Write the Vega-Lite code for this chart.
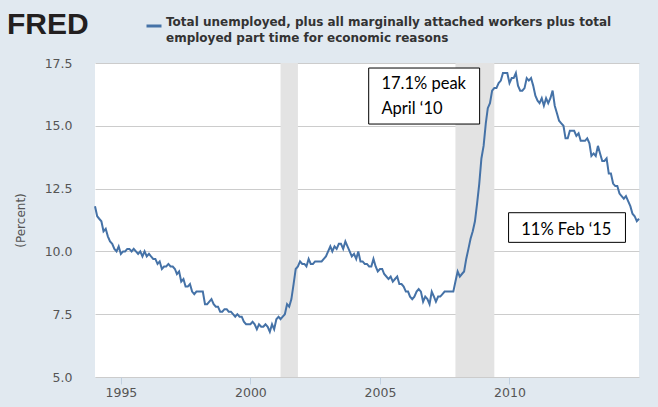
{
  "$schema": "https://vega.github.io/schema/vega-lite/v6.json",
  "width": 544,
  "height": 314,
  "autosize": {"type": "none"},
  "padding": {"left": 95, "top": 63, "right": 19, "bottom": 30},
  "background": "#e1e9f0",
  "config": {"view": {"stroke": null, "fill": "#ffffff"}, "font": "DejaVu Sans"},
  "title": {
    "text": ["Total unemployed, plus all marginally attached workers plus total", "employed part time for economic reasons"],
    "anchor": "start",
    "frame": "group",
    "dx": 71,
    "offset": -28,
    "font": "DejaVu Sans",
    "fontSize": 12,
    "fontWeight": "bold",
    "color": "#333333",
    "lineHeight": 16
  },
  "datasets": {
    "u6": [
      {"date":"1994-01-01","value":11.8},{"date":"1994-02-01","value":11.4},{"date":"1994-03-01","value":11.3},{"date":"1994-04-01","value":11.2},{"date":"1994-05-01","value":10.8},{"date":"1994-06-01","value":10.9},{"date":"1994-07-01","value":10.6},{"date":"1994-08-01","value":10.4},{"date":"1994-09-01","value":10.3},{"date":"1994-10-01","value":10.1},{"date":"1994-11-01","value":10.0},{"date":"1994-12-01","value":10.2},
      {"date":"1995-01-01","value":9.9},{"date":"1995-02-01","value":10.0},{"date":"1995-03-01","value":10.0},{"date":"1995-04-01","value":10.1},{"date":"1995-05-01","value":10.1},{"date":"1995-06-01","value":10.0},{"date":"1995-07-01","value":10.1},{"date":"1995-08-01","value":10.0},{"date":"1995-09-01","value":9.9},{"date":"1995-10-01","value":10.0},{"date":"1995-11-01","value":9.8},{"date":"1995-12-01","value":10.0},
      {"date":"1996-01-01","value":9.8},{"date":"1996-02-01","value":9.9},{"date":"1996-03-01","value":9.8},{"date":"1996-04-01","value":9.7},{"date":"1996-05-01","value":9.7},{"date":"1996-06-01","value":9.5},{"date":"1996-07-01","value":9.6},{"date":"1996-08-01","value":9.3},{"date":"1996-09-01","value":9.4},{"date":"1996-10-01","value":9.4},{"date":"1996-11-01","value":9.5},{"date":"1996-12-01","value":9.4},
      {"date":"1997-01-01","value":9.4},{"date":"1997-02-01","value":9.3},{"date":"1997-03-01","value":9.1},{"date":"1997-04-01","value":9.2},{"date":"1997-05-01","value":8.8},{"date":"1997-06-01","value":8.9},{"date":"1997-07-01","value":8.6},{"date":"1997-08-01","value":8.6},{"date":"1997-09-01","value":8.7},{"date":"1997-10-01","value":8.4},{"date":"1997-11-01","value":8.3},{"date":"1997-12-01","value":8.4},
      {"date":"1998-01-01","value":8.4},{"date":"1998-02-01","value":8.4},{"date":"1998-03-01","value":8.4},{"date":"1998-04-01","value":7.9},{"date":"1998-05-01","value":7.9},{"date":"1998-06-01","value":8.0},{"date":"1998-07-01","value":8.1},{"date":"1998-08-01","value":7.9},{"date":"1998-09-01","value":7.8},{"date":"1998-10-01","value":7.8},{"date":"1998-11-01","value":7.6},{"date":"1998-12-01","value":7.6},
      {"date":"1999-01-01","value":7.7},{"date":"1999-02-01","value":7.7},{"date":"1999-03-01","value":7.6},{"date":"1999-04-01","value":7.6},{"date":"1999-05-01","value":7.5},{"date":"1999-06-01","value":7.4},{"date":"1999-07-01","value":7.5},{"date":"1999-08-01","value":7.4},{"date":"1999-09-01","value":7.4},{"date":"1999-10-01","value":7.2},{"date":"1999-11-01","value":7.1},{"date":"1999-12-01","value":7.1},
      {"date":"2000-01-01","value":7.1},{"date":"2000-02-01","value":7.2},{"date":"2000-03-01","value":7.1},{"date":"2000-04-01","value":6.9},{"date":"2000-05-01","value":7.1},{"date":"2000-06-01","value":7.0},{"date":"2000-07-01","value":7.0},{"date":"2000-08-01","value":7.1},{"date":"2000-09-01","value":7.0},{"date":"2000-10-01","value":6.8},{"date":"2000-11-01","value":7.1},{"date":"2000-12-01","value":6.9},
      {"date":"2001-01-01","value":7.3},{"date":"2001-02-01","value":7.4},{"date":"2001-03-01","value":7.3},{"date":"2001-04-01","value":7.4},{"date":"2001-05-01","value":7.5},{"date":"2001-06-01","value":7.9},{"date":"2001-07-01","value":7.8},{"date":"2001-08-01","value":8.1},{"date":"2001-09-01","value":8.7},{"date":"2001-10-01","value":9.3},{"date":"2001-11-01","value":9.4},{"date":"2001-12-01","value":9.6},
      {"date":"2002-01-01","value":9.5},{"date":"2002-02-01","value":9.5},{"date":"2002-03-01","value":9.4},{"date":"2002-04-01","value":9.7},{"date":"2002-05-01","value":9.5},{"date":"2002-06-01","value":9.5},{"date":"2002-07-01","value":9.6},{"date":"2002-08-01","value":9.6},{"date":"2002-09-01","value":9.6},{"date":"2002-10-01","value":9.6},{"date":"2002-11-01","value":9.7},{"date":"2002-12-01","value":9.8},
      {"date":"2003-01-01","value":10.0},{"date":"2003-02-01","value":10.2},{"date":"2003-03-01","value":10.0},{"date":"2003-04-01","value":10.2},{"date":"2003-05-01","value":10.1},{"date":"2003-06-01","value":10.3},{"date":"2003-07-01","value":10.3},{"date":"2003-08-01","value":10.1},{"date":"2003-09-01","value":10.4},{"date":"2003-10-01","value":10.2},{"date":"2003-11-01","value":10.0},{"date":"2003-12-01","value":9.8},
      {"date":"2004-01-01","value":9.9},{"date":"2004-02-01","value":9.7},{"date":"2004-03-01","value":10.0},{"date":"2004-04-01","value":9.6},{"date":"2004-05-01","value":9.6},{"date":"2004-06-01","value":9.5},{"date":"2004-07-01","value":9.5},{"date":"2004-08-01","value":9.4},{"date":"2004-09-01","value":9.4},{"date":"2004-10-01","value":9.7},{"date":"2004-11-01","value":9.4},{"date":"2004-12-01","value":9.2},
      {"date":"2005-01-01","value":9.3},{"date":"2005-02-01","value":9.3},{"date":"2005-03-01","value":9.1},{"date":"2005-04-01","value":9.0},{"date":"2005-05-01","value":8.9},{"date":"2005-06-01","value":9.0},{"date":"2005-07-01","value":8.8},{"date":"2005-08-01","value":8.9},{"date":"2005-09-01","value":9.0},{"date":"2005-10-01","value":8.7},{"date":"2005-11-01","value":8.7},{"date":"2005-12-01","value":8.6},
      {"date":"2006-01-01","value":8.4},{"date":"2006-02-01","value":8.4},{"date":"2006-03-01","value":8.2},{"date":"2006-04-01","value":8.1},{"date":"2006-05-01","value":8.2},{"date":"2006-06-01","value":8.4},{"date":"2006-07-01","value":8.5},{"date":"2006-08-01","value":8.4},{"date":"2006-09-01","value":8.0},{"date":"2006-10-01","value":8.2},{"date":"2006-11-01","value":8.1},{"date":"2006-12-01","value":7.9},
      {"date":"2007-01-01","value":8.4},{"date":"2007-02-01","value":8.2},{"date":"2007-03-01","value":8.0},{"date":"2007-04-01","value":8.2},{"date":"2007-05-01","value":8.2},{"date":"2007-06-01","value":8.3},{"date":"2007-07-01","value":8.4},{"date":"2007-08-01","value":8.4},{"date":"2007-09-01","value":8.4},{"date":"2007-10-01","value":8.4},{"date":"2007-11-01","value":8.4},{"date":"2007-12-01","value":8.8},
      {"date":"2008-01-01","value":9.2},{"date":"2008-02-01","value":9.0},{"date":"2008-03-01","value":9.1},{"date":"2008-04-01","value":9.2},{"date":"2008-05-01","value":9.7},{"date":"2008-06-01","value":10.1},{"date":"2008-07-01","value":10.5},{"date":"2008-08-01","value":10.8},{"date":"2008-09-01","value":11.2},{"date":"2008-10-01","value":11.9},{"date":"2008-11-01","value":12.7},{"date":"2008-12-01","value":13.7},
      {"date":"2009-01-01","value":14.2},{"date":"2009-02-01","value":15.1},{"date":"2009-03-01","value":15.7},{"date":"2009-04-01","value":15.9},{"date":"2009-05-01","value":16.4},{"date":"2009-06-01","value":16.5},{"date":"2009-07-01","value":16.5},{"date":"2009-08-01","value":16.7},{"date":"2009-09-01","value":16.8},{"date":"2009-10-01","value":17.1},{"date":"2009-11-01","value":17.1},{"date":"2009-12-01","value":17.1},
      {"date":"2010-01-01","value":16.7},{"date":"2010-02-01","value":16.9},{"date":"2010-03-01","value":16.9},{"date":"2010-04-01","value":17.1},{"date":"2010-05-01","value":16.6},{"date":"2010-06-01","value":16.4},{"date":"2010-07-01","value":16.4},{"date":"2010-08-01","value":16.5},{"date":"2010-09-01","value":16.9},{"date":"2010-10-01","value":16.8},{"date":"2010-11-01","value":16.9},{"date":"2010-12-01","value":16.6},
      {"date":"2011-01-01","value":16.2},{"date":"2011-02-01","value":16.0},{"date":"2011-03-01","value":15.9},{"date":"2011-04-01","value":16.1},{"date":"2011-05-01","value":15.8},{"date":"2011-06-01","value":16.1},{"date":"2011-07-01","value":15.9},{"date":"2011-08-01","value":16.1},{"date":"2011-09-01","value":16.4},{"date":"2011-10-01","value":15.8},{"date":"2011-11-01","value":15.5},{"date":"2011-12-01","value":15.2},
      {"date":"2012-01-01","value":15.1},{"date":"2012-02-01","value":15.0},{"date":"2012-03-01","value":14.5},{"date":"2012-04-01","value":14.5},{"date":"2012-05-01","value":14.8},{"date":"2012-06-01","value":14.8},{"date":"2012-07-01","value":14.8},{"date":"2012-08-01","value":14.6},{"date":"2012-09-01","value":14.7},{"date":"2012-10-01","value":14.4},{"date":"2012-11-01","value":14.4},{"date":"2012-12-01","value":14.4},
      {"date":"2013-01-01","value":14.5},{"date":"2013-02-01","value":14.3},{"date":"2013-03-01","value":13.8},{"date":"2013-04-01","value":13.9},{"date":"2013-05-01","value":13.8},{"date":"2013-06-01","value":14.2},{"date":"2013-07-01","value":13.9},{"date":"2013-08-01","value":13.6},{"date":"2013-09-01","value":13.6},{"date":"2013-10-01","value":13.7},{"date":"2013-11-01","value":13.1},{"date":"2013-12-01","value":13.1},
      {"date":"2014-01-01","value":12.7},{"date":"2014-02-01","value":12.6},{"date":"2014-03-01","value":12.6},{"date":"2014-04-01","value":12.3},{"date":"2014-05-01","value":12.2},{"date":"2014-06-01","value":12.1},{"date":"2014-07-01","value":12.2},{"date":"2014-08-01","value":12.0},{"date":"2014-09-01","value":11.8},{"date":"2014-10-01","value":11.5},{"date":"2014-11-01","value":11.4},{"date":"2014-12-01","value":11.2},
      {"date":"2015-01-01","value":11.3}
    ],
    "rec": [
      {"start": "2001-03-01", "end": "2001-11-01"},
      {"start": "2007-12-01", "end": "2009-06-01"}
    ],
    "boxes": [
      {"x1": "2004-07-26", "x2": "2008-11-06", "y1": 17.3, "y2": 15.07},
      {"x1": "2009-12-19", "x2": "2014-06-24", "y1": 11.54, "y2": 10.36}
    ],
    "notes": [
      {"date": "2005-01-21", "value": 16.45, "label": "17.1% peak"},
      {"date": "2005-01-21", "value": 15.47, "label": "April ‘10"},
      {"date": "2010-06-16", "value": 10.65, "label": "11% Feb ‘15"}
    ]
  },
  "layer": [
    {
      "data": {"name": "rec"},
      "mark": {"type": "rect", "color": "#e3e3e3"},
      "encoding": {
        "x": {
          "field": "start", "type": "temporal", "title": null,
          "scale": {"type": "utc", "domain": [{"year": 1994, "month": 1, "date": 1, "utc": true}, {"year": 2015, "month": 1, "date": 1, "utc": true}]},
          "axis": {
            "values": [{"year": 1995, "month": 1, "date": 1, "utc": true}, {"year": 2000, "month": 1, "date": 1, "utc": true}, {"year": 2005, "month": 1, "date": 1, "utc": true}, {"year": 2010, "month": 1, "date": 1, "utc": true}],
            "format": "%Y", "grid": false, "domain": false, "tickSize": 7, "tickColor": "#c0d0e0",
            "labelPadding": 2, "labelFontSize": 12.5, "labelColor": "#555555", "labelFont": "DejaVu Sans"
          }
        },
        "x2": {"field": "end"}
      }
    },
    {
      "data": {"name": "u6"},
      "mark": {"type": "line", "strokeWidth": 2},
      "encoding": {
        "x": {"field": "date", "type": "temporal", "title": null},
        "y": {
          "field": "value", "type": "quantitative", "title": "(Percent)",
          "scale": {"domain": [5, 17.5], "nice": false, "zero": false},
          "axis": {
            "values": [5, 7.5, 10, 12.5, 15, 17.5], "format": ".1f",
            "grid": true, "gridColor": "#cccccc", "domain": false, "ticks": false,
            "labelPadding": 23, "labelFontSize": 12.5, "labelColor": "#555555", "labelFont": "DejaVu Sans",
            "titleFont": "DejaVu Sans", "titleFontSize": 12, "titleFontWeight": "normal", "titleColor": "#555555", "titlePadding": 17
          }
        },
        "color": {
          "datum": "U6",
          "scale": {"range": ["#4572a7"]},
          "legend": {
            "orient": "none", "legendX": -88, "legendY": -46, "padding": 0,
            "title": "FRED", "titleOrient": "left", "titleFont": "Liberation Sans", "titleFontSize": 30,
            "titleFontWeight": 900, "titleColor": "#231f20", "titlePadding": 56,
            "symbolType": "stroke", "symbolSize": 225, "symbolStrokeWidth": 3, "labelExpr": "''"
          }
        }
      }
    },
    {
      "data": {"name": "boxes"},
      "mark": {"type": "rect", "fill": "#ffffff", "stroke": "#000000", "strokeWidth": 1},
      "encoding": {
        "x": {"field": "x1", "type": "temporal", "title": null},
        "x2": {"field": "x2"},
        "y": {"field": "y1", "type": "quantitative", "title": "(Percent)"},
        "y2": {"field": "y2"}
      }
    },
    {
      "data": {"name": "notes"},
      "mark": {"type": "text", "align": "left", "baseline": "alphabetic", "font": "Lato", "fontSize": 16.5, "color": "#000000"},
      "encoding": {
        "x": {"field": "date", "type": "temporal", "title": null},
        "y": {"field": "value", "type": "quantitative", "title": "(Percent)"},
        "text": {"field": "label"}
      }
    }
  ]
}
